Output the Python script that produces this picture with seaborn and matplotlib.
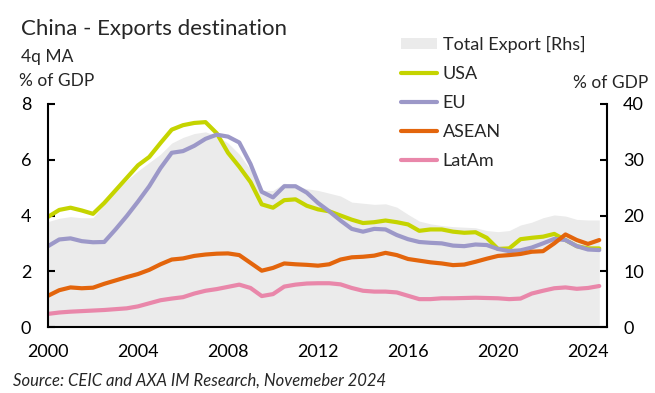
import numpy as np
import pandas as pd
import matplotlib
matplotlib.use('Agg')
import matplotlib.pyplot as plt
from matplotlib.patches import Patch
from matplotlib.lines import Line2D
import seaborn as sns

# half-year points, 2000.0 .. 2024.5
years = [2000 + 0.5 * i for i in range(50)]

usa = [3.95, 4.20, 4.28, 4.18, 4.06, 4.45, 4.90, 5.35, 5.80, 6.10,
       6.60, 7.08, 7.24, 7.32, 7.35, 6.95, 6.25, 5.75, 5.20, 4.40,
       4.28, 4.55, 4.58, 4.35, 4.22, 4.15, 4.00, 3.85, 3.73, 3.76,
       3.82, 3.76, 3.68, 3.45, 3.50, 3.50, 3.42, 3.38, 3.40, 3.20,
       2.80, 2.82, 3.15, 3.20, 3.24, 3.34, 3.12, 2.90, 2.82, 2.82]

eu = [2.90, 3.14, 3.18, 3.08, 3.04, 3.05, 3.50, 3.98, 4.50, 5.05,
      5.70, 6.25, 6.31, 6.50, 6.75, 6.90, 6.83, 6.62, 5.85, 4.85,
      4.65, 5.05, 5.05, 4.82, 4.45, 4.15, 3.82, 3.52, 3.42, 3.52,
      3.50, 3.30, 3.15, 3.05, 3.02, 3.00, 2.92, 2.90, 2.96, 2.94,
      2.80, 2.72, 2.75, 2.85, 3.00, 3.16, 3.12, 2.90, 2.78, 2.76]

asean = [1.12, 1.32, 1.42, 1.39, 1.41, 1.55, 1.67, 1.79, 1.90, 2.05,
         2.25, 2.42, 2.46, 2.55, 2.60, 2.63, 2.64, 2.58, 2.30, 2.02,
         2.12, 2.28, 2.25, 2.23, 2.20, 2.25, 2.42, 2.50, 2.52, 2.56,
         2.66, 2.58, 2.44, 2.38, 2.32, 2.28, 2.22, 2.24, 2.34, 2.45,
         2.55, 2.58, 2.62, 2.70, 2.72, 3.00, 3.32, 3.12, 2.98, 3.12]

latam = [0.47, 0.52, 0.55, 0.57, 0.59, 0.61, 0.64, 0.67, 0.74, 0.85,
         0.96, 1.02, 1.07, 1.20, 1.30, 1.36, 1.44, 1.52, 1.40, 1.11,
         1.18, 1.45, 1.52, 1.56, 1.57, 1.57, 1.53, 1.40, 1.30, 1.27,
         1.27, 1.24, 1.12, 1.00, 1.00, 1.03, 1.03, 1.04, 1.05, 1.04,
         1.03, 1.00, 1.02, 1.20, 1.30, 1.39, 1.42, 1.37, 1.40, 1.47]

# total exports, % of GDP (right axis)
total = [18.9, 19.5, 19.8, 19.6, 19.6, 22.0, 24.3, 26.3, 28.0, 29.5,
         31.0, 33.0, 34.0, 34.7, 35.0, 34.3, 33.0, 31.0, 28.2, 24.5,
         24.5, 25.8, 25.3, 24.8, 24.5, 24.0, 23.5, 22.4, 22.2, 22.0,
         22.1, 21.5, 20.2, 19.0, 18.5, 18.2, 18.0, 17.9, 17.8, 17.3,
         17.1, 17.3, 18.3, 18.8, 19.6, 20.1, 19.9, 19.3, 19.2, 19.2]

series = {'USA': usa, 'EU': eu, 'ASEAN': asean, 'LatAm': latam}
colors = {'USA': '#c5d400', 'EU': '#9c98c8', 'ASEAN': '#e3650c', 'LatAm': '#e987aa'}
fill_color = '#ebebeb'

sns.set_style('white')
plt.rcParams['font.family'] = ['Lato', 'DejaVu Sans']

fig = plt.figure(figsize=(6.55, 3.93), dpi=100)
ax = fig.add_axes([48 / 655, 1 - 327 / 393, (606.5 - 48) / 655, (327 - 104) / 393])
ax_r = ax.twinx()
ax.set_zorder(ax_r.get_zorder() + 1)
ax.patch.set_visible(False)

ax_r.fill_between(years, total, 0, color=fill_color, lw=0)

df = pd.DataFrame({'year': years, **series})
for name in series:
    sns.lineplot(data=df, x='year', y=name, ax=ax, color=colors[name], lw=3,
                 legend=False, solid_joinstyle='round', solid_capstyle='round')

xmax = 2000 + (606.5 - 48) / 22.5
ax.set_xlim(2000, xmax)
ax.set_ylim(0, 8)
ax_r.set_ylim(0, 40)
ax.set_xticks([2000, 2004, 2008, 2012, 2016, 2020, 2024])
ax.set_yticks([0, 2, 4, 6, 8])
ax_r.set_yticks([0, 10, 20, 30, 40])
ax.set_xlabel('')
ax.set_ylabel('')

for a in (ax, ax_r):
    for s in a.spines.values():
        s.set_linewidth(1.5)
        s.set_color('black')
    a.spines['top'].set_visible(False)
ax.spines['right'].set_visible(False)
ax_r.spines['left'].set_visible(False)
ax_r.spines['bottom'].set_visible(False)

ax.tick_params(axis='both', direction='in', length=5, width=1.5, labelsize=13, colors='black')
ax.tick_params(axis='y', pad=12)
ax.tick_params(axis='x', pad=12)
ax_r.tick_params(axis='y', direction='in', length=5, width=1.5, labelsize=13, pad=12, colors='black')

fig.text(21 / 655, 1 - 29 / 393, 'China - Exports destination', fontsize=16, va='center', ha='left')
fig.text(21 / 655, 1 - 57 / 393, '4q MA', fontsize=12.5, va='center', ha='left')
fig.text(19 / 655, 1 - 81 / 393, '% of GDP', fontsize=12.5, va='center', ha='left')
fig.text(648 / 655, 1 - 83 / 393, '% of GDP', fontsize=12.5, va='center', ha='right')
fig.text(13 / 655, 1 - 381 / 393, 'Source: CEIC and AXA IM Research, Novemeber 2024',
         fontsize=12, va='center', ha='left', style='italic')

handles = [Patch(facecolor=fill_color, edgecolor='none')]
handles += [Line2D([], [], color=colors[n], lw=3) for n in series]
labels = ['Total Export [Rhs]'] + list(series)
fig.legend(handles, labels, loc='upper left', bbox_to_anchor=(401 / 655, 1 - 36 / 393),
           frameon=False, fontsize=13, handlelength=2.0, handleheight=0.6,
           handletextpad=0.3, labelspacing=0.72, borderpad=0, borderaxespad=0)

fig.savefig('out.png', dpi=100)
